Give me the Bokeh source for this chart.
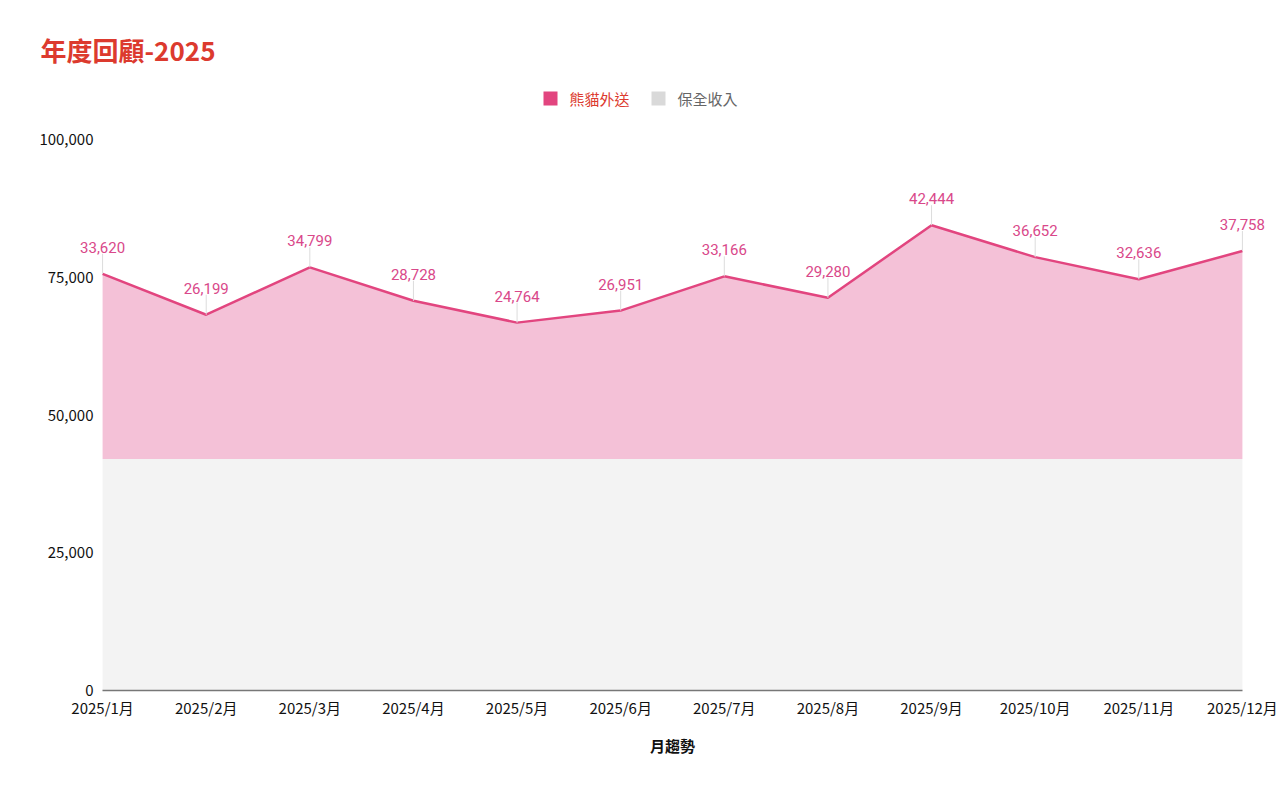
from bokeh.plotting import figure
from bokeh.layouts import column
from bokeh.models import (ColumnDataSource, Label, NumeralTickFormatter, Range1d,
                          FixedTicker, BoxAnnotation)
from bokeh.transform import stack
from bokeh.core.properties import value
from bokeh.embed import file_html
from bokeh.resources import INLINE
import numpy as np

# ---- data ----
months = ["2025/1月", "2025/2月", "2025/3月", "2025/4月", "2025/5月", "2025/6月",
          "2025/7月", "2025/8月", "2025/9月", "2025/10月", "2025/11月", "2025/12月"]
delivery = [33620, 26199, 34799, 28728, 24764, 26951, 33166, 29280, 42444, 36652, 32636, 37758]
security = [42000, 42000, 42000, 42000, 42000, 42000, 42000, 42000, 42000, 42000, 42000, 42000]
series_names = ["熊貓外送", "保全收入"]
y_ticks = [0, 25000, 50000, 75000, 100000]
chart_title = "年度回顧-2025"
x_title = "月趨勢"

FONT = "Noto Sans CJK TC"
PINK_LINE = "#e2457f"
PINK_FILL = "#f4c1d7"
GREY_FILL = "#f3f3f3"
LABEL_PINK = "#d9488a"
RED = "#dc3a2e"

W = 1278
HEAD_H = 120
MAIN_H = 668
BORDER_L = 71
BORDER_R = 5

# ---------------- header (title + legend) ----------------
head = figure(width=W, height=HEAD_H, output_backend="svg", toolbar_location=None,
              x_range=Range1d(0, W), y_range=Range1d(HEAD_H, 0),
              x_axis_type=None, y_axis_type=None, min_border=0)
head.frame_align = False
head.outline_line_color = None
head.grid.visible = False

head.add_layout(Label(x=40, y=49, text=chart_title, text_font=FONT, text_font_size="26px",
                      text_font_style="bold", text_color=RED,
                      text_baseline="middle", text_align="left"))

for name, sq_col, txt_col, sq_x, tx_x in zip(series_names, [PINK_LINE, "#d9d9d9"],
                                              [RED, "#666666"], [543, 651], [569, 677]):
    head.add_layout(BoxAnnotation(left=sq_x, right=sq_x + 14, top=91, bottom=105,
                                  fill_color=sq_col, fill_alpha=1, line_color=None))
    head.add_layout(Label(x=tx_x, y=98, text=name, text_font=FONT, text_font_size="15px",
                          text_color=txt_col, text_baseline="middle", text_align="left"))

# ---------------- main chart ----------------
xs = list(range(len(months)))
src = ColumnDataSource(dict(
    x=xs,
    security=security,
    delivery=delivery,
    lbl=[f"{v:,}" for v in delivery],
))

PAD = 0.3
p = figure(width=W, height=MAIN_H, output_backend="svg", toolbar_location=None,
           x_range=Range1d(xs[0] - PAD, xs[-1] + PAD), y_range=Range1d(0, 100000),
           min_border_left=BORDER_L, min_border_right=BORDER_R,
           min_border_top=19, min_border_bottom=98)
p.frame_align = False
p.outline_line_color = None
p.grid.grid_line_color = None

p.varea_stack(stackers=["security", "delivery"], x="x", color=[GREY_FILL, PINK_FILL], source=src)
p.line(x="x", y=stack("security", "delivery"), source=src, line_color=PINK_LINE, line_width=2.5)
p.ray(x="x", y=stack("security", "delivery"), length=20, length_units="screen",
      angle=np.pi / 2, source=src, line_color="#dcdcdc", line_width=1)
p.text(x="x", y=stack("security", "delivery"), text="lbl", source=src,
       text_align="center", text_baseline="bottom", y_offset=-21,
       text_font=value("Roboto"), text_font_size="15px", text_color=LABEL_PINK)

# axes
p.yaxis.ticker = FixedTicker(ticks=y_ticks)
p.yaxis.formatter = NumeralTickFormatter(format="0,0")
p.yaxis.axis_line_color = None
p.yaxis.major_tick_line_color = None
p.yaxis.minor_tick_line_color = None
p.yaxis.major_label_text_font = FONT
p.yaxis.major_label_text_font_size = "15px"
p.yaxis.major_label_text_color = "#111111"
p.yaxis.major_label_standoff = -28

p.xaxis.ticker = FixedTicker(ticks=xs)
p.xaxis.bounds = (xs[0], xs[-1])
p.xaxis.major_label_overrides = {i: m for i, m in zip(xs, months)}
p.xaxis.axis_line_color = "#777777"
p.xaxis.axis_line_width = 1.5
p.xaxis.major_tick_line_color = None
p.xaxis.minor_tick_line_color = None
p.xaxis.major_label_text_font = FONT
p.xaxis.major_label_text_font_size = "15px"
p.xaxis.major_label_text_color = "#111111"
p.xaxis.major_label_standoff = 0
p.xaxis.axis_label = x_title
p.xaxis.axis_label_text_font = FONT
p.xaxis.axis_label_text_font_size = "15px"
p.xaxis.axis_label_text_font_style = "bold"
p.xaxis.axis_label_text_color = "#111111"
p.xaxis.axis_label_standoff = 14

layout = column(head, p, spacing=0)
open("out.html", "w").write(file_html(layout, INLINE))
